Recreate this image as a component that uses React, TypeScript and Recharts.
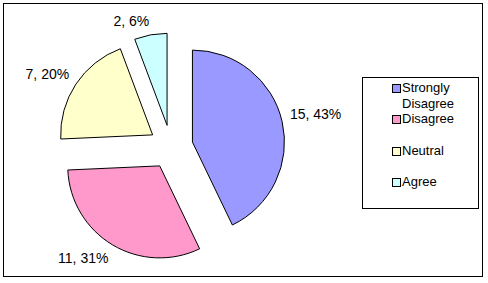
import { PieChart, Pie, Cell, Legend } from "recharts";

const categories = ["Strongly Disagree", "Disagree", "Neutral", "Agree"];
const counts = [15, 11, 7, 2];
const COLORS = ["#9999FF", "#FF99CC", "#FFFFCC", "#CCFFFF"];

const data = categories.map((name, i) => ({ name, value: counts[i] }));

const RADIAN = Math.PI / 180;
const FONT = "'Liberation Sans', Arial, sans-serif";
const CX = 171;
const CY = 147;
const R = 92;
const EXPLODE = 22;

// mid angle of each slice, in recharts degrees (start at 12 o'clock, clockwise)
const total = counts.reduce((a, b) => a + b, 0);
const midAngles = counts.map((v, i) => {
  const before = counts.slice(0, i).reduce((a, b) => a + b, 0);
  return 90 - ((before + v / 2) / total) * 360;
});

// excel style: the nearest corner of the label box sits on the mid-angle ray
const makeLabel = (k: number) => (props: any) => {
  const { cx, cy, midAngle, outerRadius, percent, value, index } = props;
  if (index !== k) return null;
  const text = `${value}, ${Math.round(percent * 100)}%`;
  const dx = Math.cos(-midAngle * RADIAN);
  const dy = Math.sin(-midAngle * RADIAN);
  const dist = outerRadius + 8;
  const x = cx + dist * dx;
  const y = cy + dist * dy + Math.sign(dy) * 6;
  return (
    <text
      x={x}
      y={y}
      textAnchor={dx >= 0 ? "start" : "end"}
      dominantBaseline="central"
      fontSize={14}
      fontFamily={FONT}
      fill="#000"
    >
      {text}
    </text>
  );
};

const LegendBox = () => (
  <div
    style={{
      position: "relative",
      width: 117,
      height: 132,
      boxSizing: "border-box",
      border: "1px solid #000",
      background: "#fff",
      fontFamily: FONT,
      fontSize: 13,
      color: "#000",
    }}
  >
    {categories.map((name, i) => {
      const center = 10 + i * 31.3;
      return (
        <div key={name}>
          <div
            style={{
              position: "absolute",
              left: 29,
              top: center - 4,
              width: 7,
              height: 7,
              border: "1px solid #000",
              background: COLORS[i],
            }}
          />
          <div
            style={{
              position: "absolute",
              left: 39,
              top: center - 8,
              width: 72,
              lineHeight: "15.5px",
              whiteSpace: "normal",
            }}
          >
            {name}
          </div>
        </div>
      );
    })}
  </div>
);

export default function App() {
  return (
    <div style={{ position: "absolute", left: 0, top: 0, width: 488, height: 283, background: "#fff" }}>
      <div
        style={{
          position: "absolute",
          left: 3,
          top: 3,
          width: 480,
          height: 274,
          boxSizing: "border-box",
          border: "1px solid #000",
        }}
      />
      <PieChart width={488} height={283} margin={{ top: 0, right: 0, bottom: 0, left: 0 }}>
        {categories.map((_, k) => (
          <Pie
            key={k}
            data={data}
            dataKey="value"
            nameKey="name"
            cx={CX + EXPLODE * Math.cos(-midAngles[k] * RADIAN)}
            cy={CY + EXPLODE * Math.sin(-midAngles[k] * RADIAN)}
            outerRadius={R}
            startAngle={90}
            endAngle={-270}
            labelLine={false}
            label={makeLabel(k)}
            isAnimationActive={false}
            legendType="none"
          >
            {data.map((_, i) => (
              <Cell
                key={`cell-${i}`}
                fill={i === k ? COLORS[i] : "none"}
                stroke={i === k ? "#000" : "none"}
                strokeWidth={1}
              />
            ))}
          </Pie>
        ))}
        <Legend
          content={() => <LegendBox />}
          wrapperStyle={{ left: 362, top: 77, width: 117, height: 132 }}
        />
      </PieChart>
    </div>
  );
}
